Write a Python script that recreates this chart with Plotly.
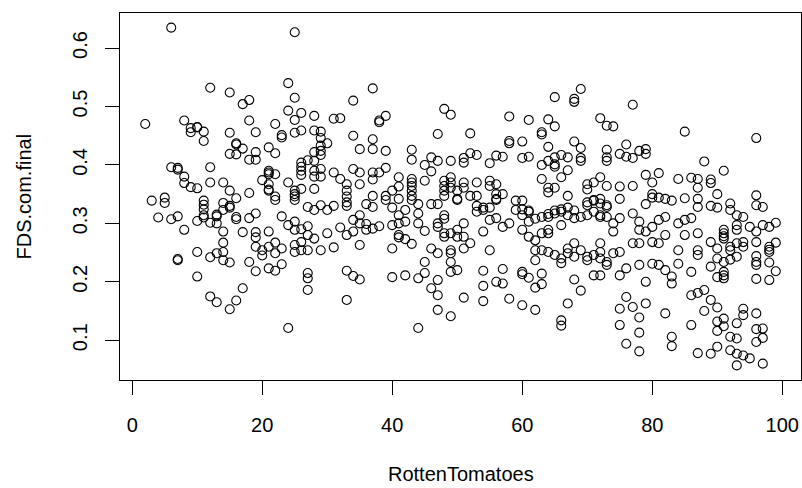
import plotly.graph_objects as go

# ---- data: RottenTomatoes score (x) vs FDS.com.final (y) ----
xA = [6,12,15,17,18,2,8,9,9,10,10,11,11,15,16,16,17,15,16,18,19,18,19,19,21,6,7,7,8,8,9,10,12,12,14,15,16,18,20,21,21,3,5,5,11,11,11,14,15]
yA = [.635,.532,.524,.504,.511,.470,.476,.456,.463,.465,.464,.457,.441,.455,.435,.437,.428,.419,.418,.476,.456,.409,.409,.422,.430,.396,.395,.392,.380,.369,.362,.360,.396,.370,.370,.356,.343,.352,.374,.387,.356,.339,.344,.335,.339,.332,.324,.335,.330]

xB = [4,6,7,8,10,11,11,12,13,13,13,14,15,16,16,17,14,14,14,13,12,10,14,15,7,7,10,12,13,15,16,17,18,19,19,19,19,20,20,18,19,21,21]
yB = [.310,.307,.312,.289,.304,.314,.310,.301,.312,.300,.315,.323,.327,.311,.307,.285,.286,.267,.251,.249,.242,.251,.237,.233,.239,.237,.209,.175,.165,.153,.168,.189,.309,.317,.285,.276,.260,.254,.245,.234,.218,.286,.223]

xC = [25,24,25,24,26,25,28,26,25,22,23,23,22,28,29,29,29,30,28,29,29,28,31,32,34,37,39,38,38,34,35,37,37,39,47,43,43,46,47,45,46,26,26,26,26,27,28,28,29,29,21,21,22,21,21,22,24,25,25,25,26,28,31,32,33,33,33,33,34,35,35,37,37,38,39,37,36,37,39,40,41,41,41,43,43,43,43,43,45,44,46]
yC = [.627,.540,.515,.493,.489,.477,.484,.459,.455,.470,.451,.447,.420,.459,.457,.446,.433,.437,.422,.424,.417,.407,.479,.480,.510,.531,.484,.476,.473,.450,.427,.444,.427,.424,.453,.426,.409,.413,.407,.400,.389,.404,.397,.390,.383,.408,.390,.380,.380,.393,.390,.384,.384,.367,.358,.346,.370,.356,.350,.346,.359,.359,.387,.376,.367,.356,.346,.336,.393,.387,.367,.387,.375,.387,.395,.347,.333,.328,.347,.356,.379,.363,.342,.376,.370,.364,.356,.347,.373,.333,.333]

xD = [22,25,27,28,29,30,31,33,39,40,41,42,43,44,44,47,47,47,23,24,25,25,26,27,27,28,30,32,33,34,34,35,35,36,36,37,38,40,41,41,41,42,42,43,45,21,22,22,23,25,25,26,26,27,29,31,35,40,46,47,22,23,27,27,27,33,34,35,33,40,42,44,45,45,46,47,47,47,24,44]
yD = [.340,.340,.328,.323,.331,.323,.330,.330,.340,.327,.314,.323,.340,.317,.300,.333,.300,.294,.312,.297,.303,.289,.290,.295,.280,.274,.283,.293,.280,.306,.286,.314,.300,.299,.289,.291,.295,.297,.300,.280,.276,.303,.273,.265,.287,.260,.267,.249,.257,.263,.251,.268,.254,.254,.254,.259,.263,.257,.257,.249,.219,.230,.215,.206,.186,.219,.210,.204,.169,.208,.211,.206,.234,.215,.189,.203,.177,.152,.121,.121]

xE1 = [69,65,68,68,48,49,58,61,64,65,72,73,52,58,58,60,63,63,64,68,69,69,69,73,73,73]
yE1 = [.530,.516,.513,.508,.496,.486,.483,.477,.478,.466,.480,.467,.454,.441,.437,.440,.456,.452,.431,.440,.429,.412,.407,.426,.413,.407]
xE2 = [49,51,51,52,53,55,56,57,60,61,63,64,65,65,65,66,67,67,66]
yE2 = [.407,.412,.404,.420,.417,.403,.416,.414,.412,.414,.400,.407,.413,.401,.397,.417,.413,.391,.379]
xE3 = [48,48,48,48,49,49,49,50,50,51,51,53,52,53,55,55,56,56,56,57,59,60,63,64,64,65,67,70,70,71,72,73,70,71,72]
yE3 = [.373,.364,.356,.347,.379,.370,.361,.356,.342,.370,.361,.370,.347,.347,.373,.364,.367,.350,.342,.350,.339,.339,.376,.361,.353,.361,.347,.367,.358,.370,.379,.364,.336,.339,.342]
xE4 = [53,54,55,60,61,64,65,66,67,68]
yE4 = [.330,.327,.327,.324,.322,.316,.322,.324,.327,.322]

xF1 = [50,53,54,55,56,56,58,57,59,60,61,61,62,63,64,65,66,66,67,68,69,70,70,71,71,72,72,73,73]
yF1 = [.340,.320,.323,.306,.340,.309,.300,.294,.323,.314,.320,.303,.308,.311,.311,.317,.320,.297,.314,.309,.311,.331,.314,.340,.320,.334,.311,.331,.311]
xF2 = [48,48,48,48,49,50,50,51,51,51,52,54,55,49,49,49,49,50]
yF2 = [.314,.308,.283,.277,.283,.289,.277,.300,.277,.257,.266,.286,.254,.254,.249,.234,.217,.220]
xF3 = [60,61,62,63,64,64,62,63,64,65,66,66,67,67,68,68,69,70,70,71,72,72,73,73,62]
yF3 = [.289,.277,.271,.283,.283,.289,.254,.254,.251,.246,.240,.232,.257,.249,.266,.243,.254,.237,.243,.246,.240,.251,.234,.229,.237]
xF4 = [54,57,56,57,54,60,60,61,63,63,62,68,69,71,72]
yF4 = [.219,.222,.200,.197,.193,.217,.213,.207,.214,.196,.190,.204,.185,.211,.211]
xF5 = [49,51,54,58,60,62,67,66,66]
yF5 = [.141,.173,.167,.171,.160,.152,.163,.134,.125]

xG1 = [77,74,85,96,75,76,76,77,78,79,79,88,91,75,77,79,80,81,84,86,87,87,89,89,90,92,96]
yG1 = [.503,.466,.457,.446,.419,.435,.414,.412,.424,.427,.419,.406,.390,.363,.364,.383,.370,.386,.376,.378,.376,.361,.375,.369,.350,.334,.331]
xG2 = [73,75,79,80,80,81,82,83,85,87,87,89,90]
yG2 = [.328,.342,.333,.350,.344,.344,.342,.339,.343,.342,.328,.330,.327]

xH1 = [92,93,94,97,95,99,98,98,99,98,98,96,96,96,96,96,94,94,93,93,93,92,92,91,91,91,93,92,96,97,99,98,98,96]
yH1 = [.323,.314,.311,.297,.294,.267,.255,.251,.218,.233,.203,.268,.286,.234,.229,.205,.268,.260,.266,.289,.297,.260,.254,.289,.283,.278,.243,.238,.348,.328,.301,.294,.260,.244]
xH2 = [72,74,74,75,77,78,78,77,78,79,80,80,81,81,82,82,72,74,75,75,76,78,79,80,81,82,83,83,84,84,84,85,85,86,87,87,87,86,89,90,90,89,91,91,91,91,90,91]
yH2 = [.314,.300,.286,.309,.317,.303,.289,.266,.266,.286,.294,.268,.306,.266,.280,.311,.266,.249,.251,.211,.223,.229,.200,.231,.229,.220,.209,.197,.231,.254,.300,.306,.280,.309,.283,.254,.246,.217,.268,.257,.240,.226,.274,.217,.211,.206,.208,.234]
xH3 = [76,75,77,79,78,75,78,76,78,82,83,83,86,86,87,88,89,88,90,90,91,91,90,92,93,93,94,94,96,96,97,96,92,93,94,95,93,97,90,89,87,97]
yH3 = [.174,.154,.157,.163,.139,.126,.113,.094,.081,.146,.106,.090,.126,.177,.181,.186,.169,.150,.156,.132,.137,.124,.116,.106,.103,.129,.154,.143,.146,.119,.104,.097,.083,.077,.074,.069,.057,.060,.089,.077,.078,.120]

x_ticks = [0, 20, 40, 60, 80, 100]
y_ticks = [0.1, 0.2, 0.3, 0.4, 0.5, 0.6]
y_ticktext = ["0.1", "0.2", "0.3", "0.4", "0.5", "0.6"]
x_title = "RottenTomatoes"
y_title = "FDS.com.final"

rotten = xA + xB + xC + xD + xE1 + xE2 + xE3 + xE4 + xF1 + xF2 + xF3 + xF4 + xF5 + xG1 + xG2 + xH1 + xH2 + xH3
fds = yA + yB + yC + yD + yE1 + yE2 + yE3 + yE4 + yF1 + yF2 + yF3 + yF4 + yF5 + yG1 + yG2 + yH1 + yH2 + yH3

FONT = "Liberation Sans, Arial, Helvetica, sans-serif"

fig = go.Figure(go.Scatter(
    x=rotten, y=fds, mode="markers",
    marker=dict(symbol="circle-open", size=9, color="black", line=dict(width=1.1, color="black")),
    hoverinfo="x+y", showlegend=False,
))

fig.update_layout(
    width=802, height=488,
    margin=dict(l=120, r=1, t=13, b=108),
    paper_bgcolor="white", plot_bgcolor="white",
    font=dict(family=FONT, size=20, color="black"),
    xaxis=dict(range=[-1.88, 102.88], tickvals=x_ticks, ticks="outside", ticklen=14,
               tickwidth=1, tickcolor="black", showline=True, mirror=True, linecolor="black",
               linewidth=1, showgrid=False, zeroline=False, ticklabelstandoff=13,
               tickfont=dict(family=FONT, size=20, color="black")),
    yaxis=dict(range=[0.032, 0.660], tickvals=y_ticks, ticktext=y_ticktext, tickangle=-90,
               ticks="outside", ticklen=14, tickwidth=1, tickcolor="black", showline=True,
               mirror=True, linecolor="black", linewidth=1, showgrid=False, zeroline=False,
               ticklabelstandoff=10, tickfont=dict(family=FONT, size=20, color="black")),
    annotations=[
        dict(text=x_title, xref="paper", yref="paper", x=0.5, y=-0.256, xanchor="center",
             yanchor="middle", showarrow=False, font=dict(family=FONT, size=20, color="black")),
        dict(text=y_title, xref="paper", yref="paper", x=-0.141, y=0.5, xanchor="center",
             yanchor="middle", textangle=-90, showarrow=False,
             font=dict(family=FONT, size=20, color="black")),
    ],
)

fig.write_html("out.html")
